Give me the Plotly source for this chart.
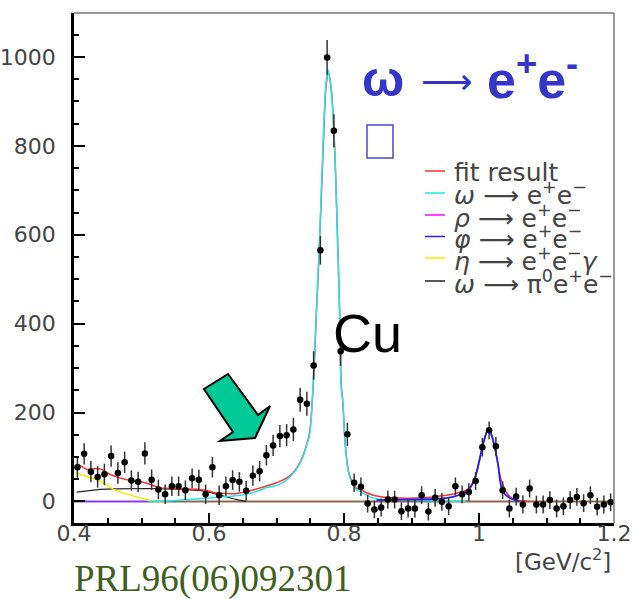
import plotly.graph_objects as go

# ---------------- data ----------------
mass = [0.405, 0.415, 0.425, 0.435, 0.445, 0.455, 0.465, 0.475, 0.485, 0.495,
        0.505, 0.515, 0.525, 0.535, 0.545, 0.555, 0.565, 0.575, 0.585, 0.595,
        0.605, 0.615, 0.625, 0.635, 0.645, 0.655, 0.665, 0.675, 0.685, 0.695,
        0.705, 0.715, 0.725, 0.735, 0.745, 0.755, 0.765, 0.775, 0.785, 0.795,
        0.805, 0.815, 0.825, 0.835, 0.845, 0.855, 0.865, 0.875, 0.885, 0.895,
        0.905, 0.915, 0.925, 0.935, 0.945, 0.955, 0.965, 0.975, 0.985, 0.995,
        1.005, 1.015, 1.025, 1.035, 1.045, 1.055, 1.065, 1.075, 1.085, 1.095,
        1.105, 1.115, 1.125, 1.135, 1.145, 1.155, 1.165, 1.175, 1.185, 1.195]
counts = [77, 107, 67, 55, 61, 102, 64, 88, 47, 44,
          108, 49, 27, 16, 34, 34, 25, 52, 49, 16,
          77, 14, 34, 48, 44, 24, 58, 68, 104, 126,
          147, 149, 162, 229, 220, 306, 565, 999, 834, 338,
          151, 42, 33, -5, -18, -14, 4, 4, -22, -16,
          -16, 14, -23, 8, -1, -11, 34, 16, 21, 46,
          122, 160, 124, 25, -16, 11, -7, 29, -7, -7,
          3, -16, -11, 3, 10, -4, 14, -12, -7, -2]
errors = [24, 24, 24, 24, 24, 24, 24, 24, 23, 23,
          25, 23, 22, 22, 22, 22, 22, 22, 22, 22,
          23, 22, 22, 22, 22, 22, 23, 23, 23, 24,
          25, 25, 26, 27, 27, 32, 32, 39, 37, 33,
          26, 21, 21, 20, 20, 20, 20, 20, 20, 20,
          20, 20, 20, 20, 20, 20, 20, 20, 20, 20,
          21, 20, 21, 20, 20, 20, 20, 20, 20, 20,
          20, 20, 20, 20, 20, 20, 20, 20, 20, 20]
bin_half = [0.004] * 80

fit_x = [0.404, 0.410, 0.419, 0.430, 0.441, 0.453, 0.465, 0.478, 0.490, 0.5025,
         0.515, 0.527, 0.540, 0.552, 0.570, 0.586, 0.600, 0.611, 0.625, 0.636,
         0.645, 0.655, 0.668, 0.680, 0.690, 0.700, 0.712, 0.7245, 0.732, 0.739,
         0.745, 0.749, 0.754, 0.759, 0.764, 0.769, 0.7738, 0.777, 0.781, 0.786,
         0.790, 0.7935, 0.796, 0.798, 0.8024, 0.808, 0.818, 0.823, 0.843, 0.872,
         0.917, 0.941, 0.966, 0.983, 0.993, 0.998, 1.003, 1.008, 1.013, 1.017,
         1.023, 1.028, 1.0327, 1.0425, 1.050, 1.060, 1.075]
fit_y = [85, 80, 72, 74, 72, 61, 54, 49, 45, 43,
         37, 31, 29, 28, 28, 27, 23, 19, 18, 17,
         19, 22, 27, 32, 37, 42, 50, 64, 80, 102,
         130, 154, 250, 420, 590, 790, 940, 964, 930, 800,
         615, 430, 260, 229, 120, 60, 30, 27, 14, 8,
         8, 12, 18, 27, 49, 75, 109, 140, 160, 155,
         124, 85, 49, 16, 6, 2, 0]

omega_x = [0.51, 0.55, 0.586, 0.61, 0.636, 0.66, 0.675, 0.685, 0.70, 0.712,
           0.7245, 0.732, 0.739, 0.745, 0.749, 0.754, 0.759, 0.764, 0.7688, 0.7738,
           0.7762, 0.778, 0.781, 0.786, 0.790, 0.7935, 0.796, 0.798, 0.8024, 0.808,
           0.818, 0.823, 0.843, 0.872, 0.917, 0.95, 0.98]
omega_y = [0, 2, 6, 9, 12, 18, 25, 31, 36, 45,
           62, 78, 100, 128, 150, 259, 424, 596, 798, 948,
           971, 960, 926, 798, 611, 424, 252, 229, 117, 57,
           27, 23, 8, 4, 2, 1, 0]

phi_x = [0.848, 0.892, 0.940, 0.961, 0.983, 0.993, 1.003, 1.008, 1.013, 1.017,
         1.023, 1.028, 1.035, 1.045, 1.060]
phi_y = [3, 4, 6, 10, 23, 49, 109, 140, 160, 155,
         124, 85, 23, 8, 0]

eta_x = [0.403, 0.420, 0.4385, 0.450, 0.458, 0.475, 0.4927, 0.505, 0.512, 0.522, 0.535]
eta_y = [64, 56, 46, 36, 27, 18, 10, 5, 2, 0, 0]

dalitz_x = [0.404, 0.420, 0.4385, 0.460, 0.488, 0.510, 0.537, 0.560, 0.586, 0.600,
            0.611, 0.625, 0.636, 0.645, 0.655]
dalitz_y = [21, 24, 27, 28, 29, 29, 28, 27, 25, 21,
            16, 11, 6, 3, 0]

rho_x = [0.40, 0.52]
rho_y = [0, 0]
base_x = [0.52, 1.20]
base_y = [0, 0]

x_ticks = [0.4, 0.6, 0.8, 1.0, 1.2]
x_tick_labels = ["0.4", "0.6", "0.8", "1", "1.2"]
y_ticks = [0, 200, 400, 600, 800, 1000]
y_tick_labels = ["0", "200", "400", "600", "800", "1000"]

legend_labels = [
    "fit result",
    "<i>ω</i> ⟶ e<sup>+</sup>e<sup>−</sup>",
    "<i>ρ</i> ⟶ e<sup>+</sup>e<sup>−</sup>",
    "<i>φ</i> ⟶ e<sup>+</sup>e<sup>−</sup>",
    "<i>η</i> ⟶ e<sup>+</sup>e<sup>−</sup><i>γ</i>",
    "<i>ω</i> ⟶ π<sup>0</sup>e<sup>+</sup>e<sup>−</sup>",
]
legend_colors = ["#ff3030", "#20e8e8", "#ff00ff", "#2020ff", "#f0f000", "#222222"]

# ---------------- layout geometry ----------------
W, H = 634, 599
L, R, T, B = 74, 20, 13, 76
PW, PH = W - L - R, H - T - B


def P(px, py):
    return (px - L) / PW, (H - B - py) / PH


fig = go.Figure()

# baseline lines
fig.add_trace(go.Scatter(x=base_x, y=base_y, mode="lines",
                         line=dict(color="#8b6a50", width=2), showlegend=False))
fig.add_trace(go.Scatter(x=rho_x, y=rho_y, mode="lines",
                         line=dict(color="#8a3cf0", width=2), showlegend=False))
# components
fig.add_trace(go.Scatter(x=dalitz_x, y=dalitz_y, mode="lines",
                         line=dict(color="#222222", width=1.2), showlegend=False))
fig.add_trace(go.Scatter(x=eta_x, y=eta_y, mode="lines",
                         line=dict(color="#f0f000", width=1.5), showlegend=False))
fig.add_trace(go.Scatter(x=fit_x, y=fit_y, mode="lines", line_shape="spline",
                         line=dict(color="#ff3030", width=1.5), showlegend=False))
fig.add_trace(go.Scatter(x=omega_x, y=omega_y, mode="lines", line_shape="spline",
                         line=dict(color="#20e8e8", width=1.5), showlegend=False))
fig.add_trace(go.Scatter(x=phi_x, y=phi_y, mode="lines", line_shape="spline",
                         line=dict(color="#2020ff", width=1.8), showlegend=False))

# data points
fig.add_trace(go.Scatter(
    x=mass, y=counts, mode="markers",
    marker=dict(color="black", size=6.5, symbol="circle"),
    error_y=dict(type="data", array=errors, color="#333333", thickness=1.5, width=0),
    error_x=dict(type="data", array=bin_half, color="#111111", thickness=1.5, width=0),
    showlegend=False))

shapes = []
# top and right frame (gray)
shapes.append(dict(type="line", xref="paper", yref="paper", x0=0, x1=1, y0=1, y1=1,
                   line=dict(color="#777777", width=1.5)))
shapes.append(dict(type="line", xref="paper", yref="paper", x0=1, x1=1, y0=0, y1=1,
                   line=dict(color="#777777", width=1.5)))

# green arrow
arrow_px = [(204, 389), (228, 374), (258, 415), (270, 406), (255, 438), (220, 441), (233, 432)]
path = ""
for i, (ax_, ay_) in enumerate(arrow_px):
    qx, qy = P(ax_, ay_)
    path += ("M" if i == 0 else "L") + f"{qx:.4f},{qy:.4f} "
path += "Z"
shapes.append(dict(type="path", xref="paper", yref="paper", path=path,
                   fillcolor="#00c896", line=dict(color="black", width=2)))

# small blue box
bx0, by0 = P(367, 158)
bx1, by1 = P(393, 125)
shapes.append(dict(type="rect", xref="paper", yref="paper", x0=bx0, y0=by0, x1=bx1, y1=by1,
                   line=dict(color="#4848d0", width=1.5), fillcolor="white"))

annotations = []
# legend
row_y = [171, 193, 215, 236.5, 258, 281]
for lab, col, ry in zip(legend_labels, legend_colors, row_y):
    lx0, ly = P(425, ry)
    lx1, _ = P(445, ry)
    shapes.append(dict(type="line", xref="paper", yref="paper", x0=lx0, x1=lx1, y0=ly, y1=ly,
                       line=dict(color=col, width=1.5)))
    tx, ty = P(452, ry + 1)
    annotations.append(dict(xref="paper", yref="paper", x=tx, y=ty, text=lab,
                            showarrow=False, xanchor="left", yanchor="middle",
                            font=dict(family="DejaVu Sans", size=25, color="#444444")))

# title omega -> e+e-
tx, ty = P(360, 79)
annotations.append(dict(xref="paper", yref="paper", x=tx, y=ty, text="<b>ω</b>",
                        showarrow=False, xanchor="left", yanchor="middle",
                        font=dict(family="Liberation Sans", size=50, color="#3535c8")))
tx, ty = P(447, 82)
annotations.append(dict(xref="paper", yref="paper", x=tx, y=ty, text="⟶",
                        showarrow=False, xanchor="center", yanchor="middle",
                        font=dict(family="DejaVu Sans", size=36, color="#3535c8")))
tx, ty = P(485, 76)
annotations.append(dict(xref="paper", yref="paper", x=tx, y=ty,
                        text="<b>e<sup>+</sup>e<sup>-</sup></b>",
                        showarrow=False, xanchor="left", yanchor="middle",
                        font=dict(family="Liberation Sans", size=52, color="#3535c8")))

# Cu
tx, ty = P(331, 333)
annotations.append(dict(xref="paper", yref="paper", x=tx, y=ty, text="Cu",
                        showarrow=False, xanchor="left", yanchor="middle",
                        font=dict(family="Liberation Sans", size=54, color="black")))

# axis title
tx, ty = P(613, 560)
annotations.append(dict(xref="paper", yref="paper", x=tx, y=ty, text="[GeV/c<sup>2</sup>]",
                        showarrow=False, xanchor="right", yanchor="middle",
                        font=dict(family="DejaVu Sans", size=23, color="#444444")))

# reference
tx, ty = P(72, 579)
annotations.append(dict(xref="paper", yref="paper", x=tx, y=ty, text="PRL96(06)092301",
                        showarrow=False, xanchor="left", yanchor="middle",
                        font=dict(family="Liberation Serif", size=37, color="#3f5f1f")))

tickfont = dict(family="DejaVu Sans", size=22, color="#444444")
fig.update_layout(
    width=W, height=H,
    margin=dict(l=L, r=R, t=T, b=B, pad=0),
    paper_bgcolor="white", plot_bgcolor="white",
    showlegend=False,
    shapes=shapes, annotations=annotations,
    xaxis=dict(range=[0.4, 1.2], tickvals=x_ticks, ticktext=x_tick_labels,
               ticks="inside", ticklen=10, tickwidth=1.5, tickcolor="black",
               minor=dict(ticks="inside", ticklen=5, dtick=0.05, tick0=0.4,
                          tickcolor="black", tickwidth=1.5),
               showline=True, linecolor="black", linewidth=2.5, mirror=False,
               showgrid=False, zeroline=False, tickfont=tickfont,
               ticklabelstandoff=-11, automargin=False),
    yaxis=dict(range=[-48.6, 1099], tickvals=y_ticks, ticktext=y_tick_labels,
               ticks="inside", ticklen=11, tickwidth=1.5, tickcolor="black",
               minor=dict(ticks="inside", ticklen=5, dtick=50, tick0=0,
                          tickcolor="black", tickwidth=1.5),
               showline=True, linecolor="black", linewidth=2.5, mirror=False,
               showgrid=False, zeroline=False, tickfont=tickfont,
               ticklabelstandoff=11, automargin=False),
)

fig.write_html("out.html")
